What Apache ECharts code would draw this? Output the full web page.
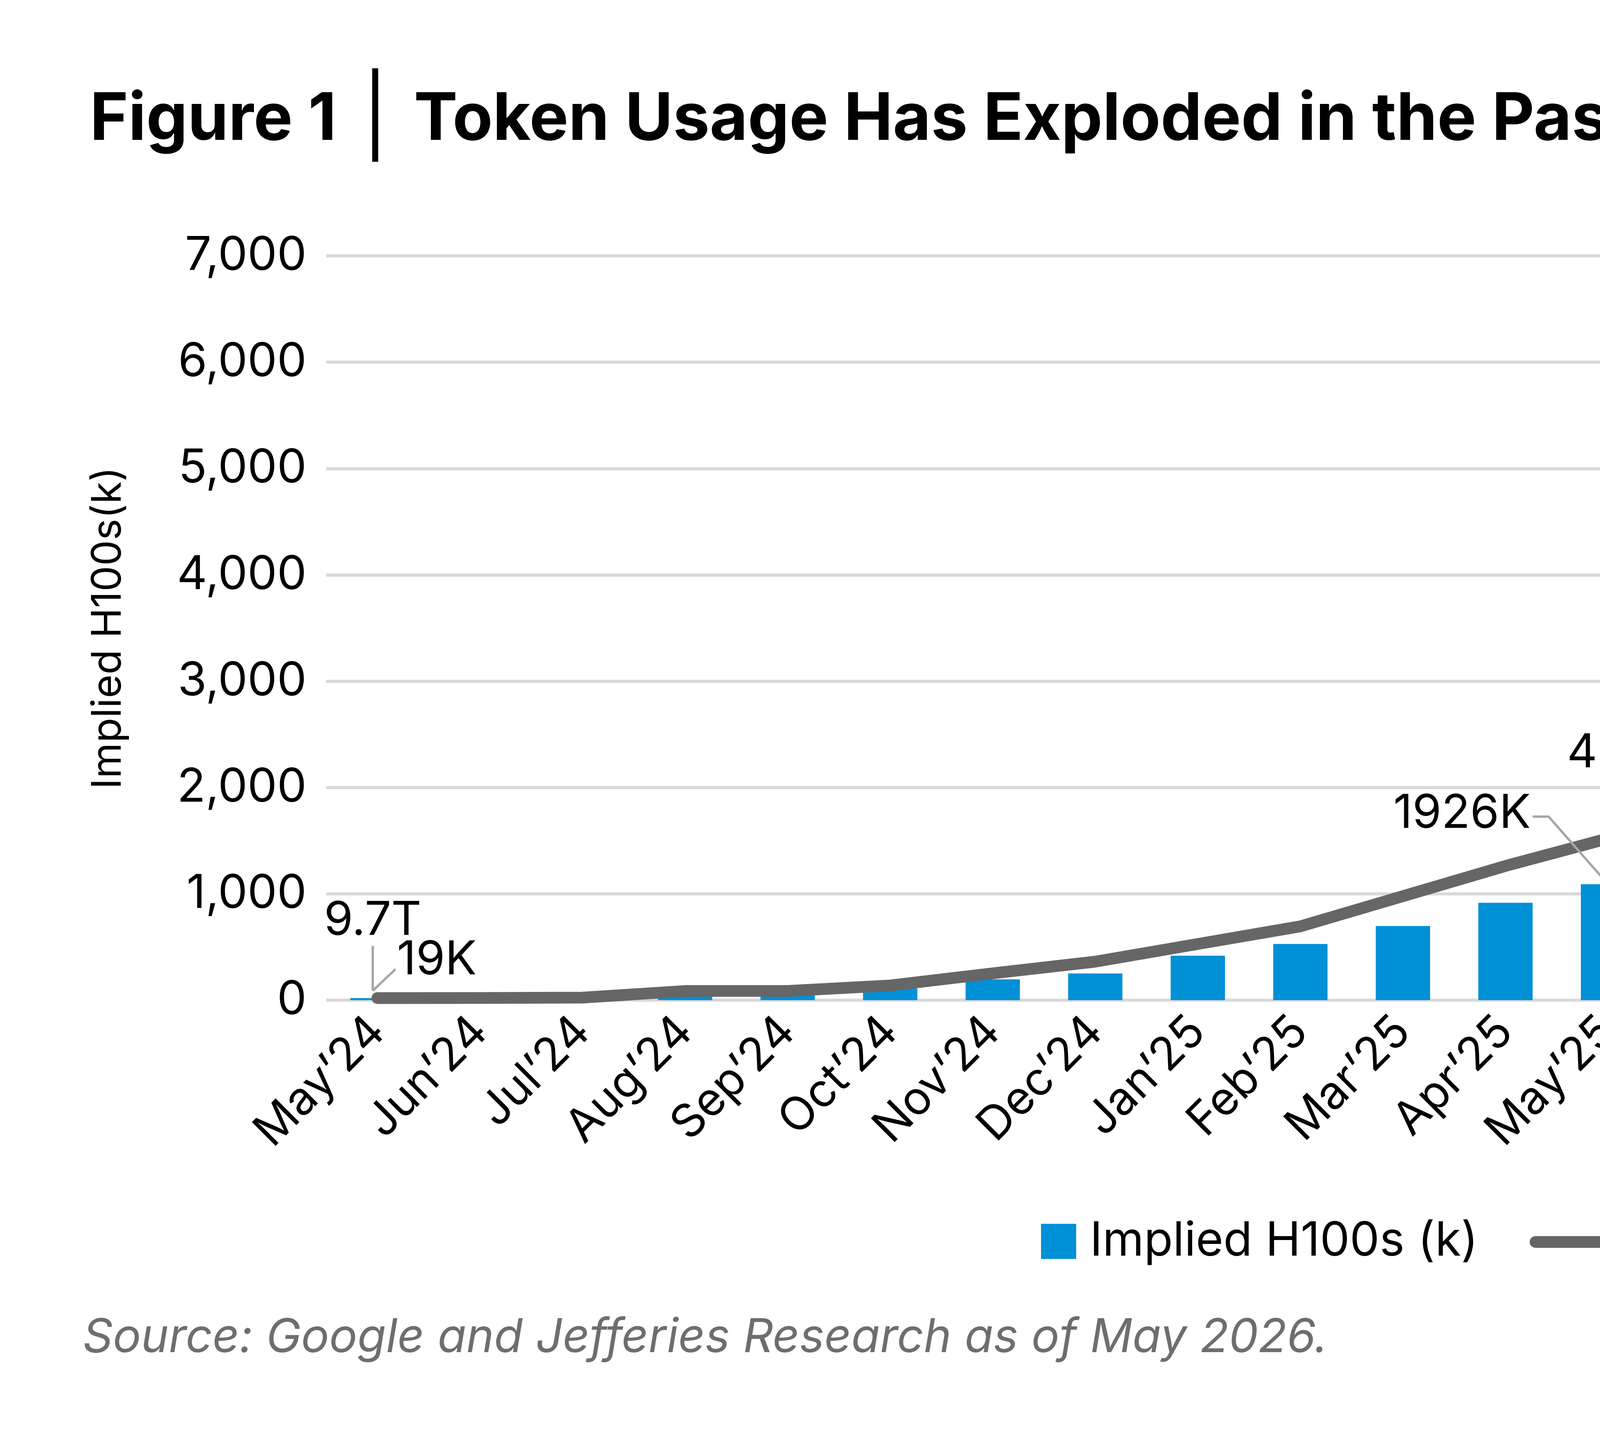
<!DOCTYPE html>
<html lang="en">
<head>
    <meta charset="UTF-8">
    <title>Token Usage Has Exploded in the Past Year</title>
    <style>
        html, body { margin: 0; padding: 0; background: #fff; }
    </style>
</head>
<body>
    <div id="main" style="width: 7972px;height:3691px;"></div>
</body>
<script src="https://cdn.jsdelivr.net/npm/echarts@6/dist/echarts.min.js"></script>
<script type="text/javascript">
    // categories and values
    var months = ["May’24","Jun’24","Jul’24","Aug’24","Sep’24","Oct’24","Nov’24","Dec’24",
        "Jan’25","Feb’25","Mar’25","Apr’25","May’25","Jun’25","Jul’25","Aug’25","Sep’25",
        "Oct’25","Nov’25","Dec’25","Jan’26","Feb’26","Mar’26","Apr’26","May’26"];
    var h100s = [19, 20, 25, 60, 65, 110, 196, 251, 418, 528, 697, 916, 1090, 1322, 1664,
        1999, 2395, 2901, 3467, 4034, 4820, 5387, 6002, 6173, 6228];
    var tokens = [9.7, 10, 12, 43, 43, 69, 126, 181, 264, 347, 489, 631, 760, 978, 1151,
        1395, 1630, 1907, 2217, 2492, 2757, 2942, 3116, 3200, 3200];
    var leftTicks = [0, 7000, 1000];
    var rightTicks = [0, 3500, 500];

    var FONT = 'Inter';
    var BLUE = '#0090d6';
    var GREY = '#666666';
    var LEAD = '#a6a6a6';

    var myChart = echarts.init(document.getElementById('main'));

    var option = {
        backgroundColor: '#ffffff',
        animation: false,
        title: [{
            text: 'Figure 1 {sep||} Token Usage Has Exploded in the Past Year',
            left: 225,
            top: 202,
            textStyle: {
                fontFamily: FONT, fontSize: 168, fontWeight: 'bold', color: '#000',
                rich: {
                    sep: { fontFamily: FONT, fontSize: 200, fontWeight: 'normal', color: '#000', padding: [0, 26, 0, 26] }
                }
            }
        }, {
            text: 'Source: Google and Jefferies Research as of May 2026.',
            left: 207,
            top: 3360,
            textStyle: { fontFamily: FONT, fontSize: 120, fontStyle: 'italic', fontWeight: 'normal', color: '#6e6e6e' }
        }],
        legend: [{
            data: ['Implied H100s (k)'],
            left: 2660,
            top: 3112,
            itemWidth: 90,
            itemHeight: 90,
            icon: 'rect',
            itemGap: 0,
            textStyle: { fontFamily: FONT, fontSize: 121, color: '#000', padding: [0, 0, 0, 30] }
        }, {
            data: ['GOOG Tokens/Month (T)'],
            left: 3911,
            top: 3112,
            itemWidth: 200,
            itemHeight: 90,
            icon: 'path://M15,0H185A15,15 0 0 1 185,30H15A15,15 0 0 1 15,0Z',
            itemGap: 0,
            textStyle: { fontFamily: FONT, fontSize: 124, color: '#000', padding: [0, 0, 0, 30] }
        }],
        grid: {
            left: 835,
            right: 574,
            top: 655,
            bottom: 1131,
            containLabel: false
        },
        xAxis: {
            type: 'category',
            data: months,
            axisLine: { show: false },
            axisTick: { show: false },
            axisLabel: {
                rotate: 45,
                margin: 62,
                fontFamily: FONT,
                fontSize: 118,
                color: '#000',
                interval: 0
            }
        },
        yAxis: [{
            type: 'value',
            name: 'Implied H100s(k)',
            nameLocation: 'middle',
            nameGap: 505,
            nameTextStyle: { fontFamily: FONT, fontSize: 104, color: '#000' },
            min: leftTicks[0],
            max: leftTicks[1],
            interval: leftTicks[2],
            axisLine: { show: false },
            axisTick: { show: false },
            axisLabel: {
                margin: 50,
                fontFamily: FONT,
                fontSize: 120,
                color: '#000',
                formatter: function (v) { return v.toLocaleString('en-US'); }
            },
            splitLine: { lineStyle: { color: '#d9d9d9', width: 8 } }
        }, {
            type: 'value',
            min: rightTicks[0],
            max: rightTicks[1],
            interval: rightTicks[2],
            axisLine: { show: false },
            axisTick: { show: false },
            axisLabel: {
                margin: 55,
                fontFamily: FONT,
                fontSize: 120,
                color: '#000',
                formatter: function (v) { return v.toLocaleString('en-US'); }
            },
            splitLine: { show: false }
        }],
        series: [{
            name: 'Implied H100s (k)',
            type: 'bar',
            yAxisIndex: 0,
            barWidth: 139,
            itemStyle: { color: BLUE },
            data: h100s,
            z: 2
        }, {
            name: 'GOOG Tokens/Month (T)',
            type: 'line',
            yAxisIndex: 1,
            showSymbol: false,
            symbol: 'none',
            lineStyle: { color: GREY, width: 30, cap: 'round', join: 'round' },
            itemStyle: { color: GREY },
            data: tokens,
            z: 3
        }]
    };

    myChart.setOption(option);

    // callouts: anchored on the bar tops through the chart's own scales
    function pt(i) {
        return myChart.convertToPixel({ xAxisIndex: 0, yAxisIndex: 0 }, [i, h100s[i]]);
    }
    function lead(points) {
        return { type: 'polyline', z: 10, shape: { points: points },
            style: { stroke: LEAD, lineWidth: 6, fill: null } };
    }
    function note(text, x, y, align) {
        return { type: 'text', z: 10, x: x, y: y,
            style: { text: text, fontFamily: FONT, fontSize: 120, fill: '#000',
                align: align, verticalAlign: 'middle' } };
    }

    var a0 = pt(0), a12 = pt(12), a24 = pt(24);
    var g = [];
    a0 = [a0[0] - 12, a0[1]];
    g.push(lead([[a0[0], a0[1] - 19], [a0[0], a0[1] - 134]]));
    g.push(note('9.7T', a0[0], a0[1] - 198, 'center'));
    g.push(lead([[a0[0], a0[1] - 19], [a0[0] + 58, a0[1] - 74]]));
    g.push(note('19K', a0[0] + 62, a0[1] - 97, 'left'));

    g.push(lead([[a12[0], a12[1]], [a12[0], a12[1] - 280]]));
    g.push(note('480T', a12[0] - 105, a12[1] - 335, 'left'));
    g.push(lead([[a12[0], a12[1]], [a12[0] - 152, a12[1] - 173], [a12[0] - 193, a12[1] - 173]]));
    g.push(note('1926K', a12[0] - 198, a12[1] - 180, 'right'));

    g.push(lead([[a24[0] + 10, a24[1]], [a24[0] + 10, a24[1] - 298]]));
    g.push(note('3,200T', a24[0] + 12, a24[1] - 354, 'center'));
    g.push(lead([[a24[0] + 10, a24[1]], [a24[0] - 167, a24[1] - 164], [a24[0] - 224, a24[1] - 164]]));
    g.push(note('6,173K', a24[0] - 228, a24[1] - 159, 'right'));

    myChart.setOption({ graphic: g });
</script>
</html>
